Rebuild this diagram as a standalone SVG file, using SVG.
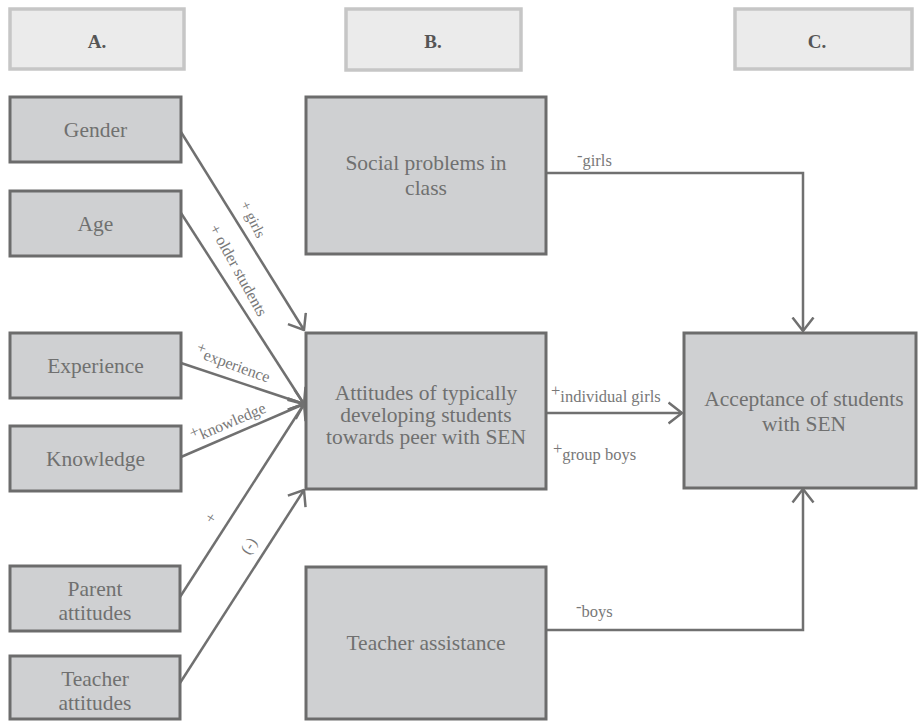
<svg xmlns="http://www.w3.org/2000/svg" width="920" height="722" viewBox="0 0 920 722">
<style>
.hdr rect{fill:#ebebeb;stroke:#c6c6c6;stroke-width:3.5}
.hdr text{font-family:"Liberation Serif",serif;font-size:19px;font-weight:bold;fill:#555;text-anchor:middle}
.node rect{fill:#cfd0d2;stroke:#6c6c6c;stroke-width:3}
.node text{font-family:"Liberation Serif",serif;font-size:21.5px;fill:#707070;text-anchor:middle}
.conn path{fill:none;stroke:#707070;stroke-width:2.5}
.lbl{font-family:"Liberation Serif",serif;font-size:16.5px;fill:#787878}
</style>
<defs>
<marker id="arr" viewBox="0 0 16 24" refX="14.5" refY="12" markerWidth="16" markerHeight="24" markerUnits="userSpaceOnUse" orient="auto">
<path d="M1,1.5 L14.5,12 L1,22.5" fill="none" stroke="#707070" stroke-width="2.5"/>
</marker>
</defs>
<rect width="920" height="722" fill="#ffffff"/>

<g id="hdrA" class="hdr"><rect x="10" y="9" width="174" height="60"/><text x="97" y="48">A.</text></g>
<g id="hdrB" class="hdr"><rect x="346" y="9" width="175" height="61"/><text x="433" y="48">B.</text></g>
<g id="hdrC" class="hdr"><rect x="735" y="9" width="177" height="60"/><text x="817" y="48">C.</text></g>

<g id="connectors" class="conn">
<path d="M181,132 L304,330" marker-end="url(#arr)"/>
<path d="M181,213 L304,404" marker-end="url(#arr)"/>
<path d="M181,363 L304,404" marker-end="url(#arr)"/>
<path d="M181,457 L304,404" marker-end="url(#arr)"/>
<path d="M180,597 L304,404" marker-end="url(#arr)"/>
<path d="M180,683 L304,490" marker-end="url(#arr)"/>
<path d="M547,173 H803 V331" marker-end="url(#arr)"/>
<path d="M547,413 H682" marker-end="url(#arr)"/>
<path d="M547,630 H803 V489" marker-end="url(#arr)"/>
</g>

<g id="gender" class="node"><rect x="10" y="97" width="171" height="65"/><text x="95.5" y="137">Gender</text></g>
<g id="age" class="node"><rect x="10" y="191" width="171" height="65"/><text x="95.5" y="231">Age</text></g>
<g id="experience" class="node"><rect x="10" y="333" width="171" height="65"/><text x="95.5" y="373">Experience</text></g>
<g id="knowledge" class="node"><rect x="10" y="426" width="171" height="65"/><text x="95.5" y="466">Knowledge</text></g>
<g id="parent" class="node"><rect x="10" y="566" width="170" height="65"/><text x="95" y="596">Parent</text><text x="95" y="620">attitudes</text></g>
<g id="teacher" class="node"><rect x="10" y="656" width="170" height="63"/><text x="95" y="686">Teacher</text><text x="95" y="710">attitudes</text></g>

<g id="social" class="node"><rect x="306" y="97" width="240" height="157"/><text x="426" y="170">Social problems in</text><text x="426" y="195">class</text></g>
<g id="attitudes" class="node"><rect x="306" y="333" width="240" height="156"/><text x="426" y="400">Attitudes of typically</text><text x="426" y="422">developing students</text><text x="426" y="444">towards peer with SEN</text></g>
<g id="assistance" class="node"><rect x="306" y="567" width="240" height="152"/><text x="426" y="650">Teacher assistance</text></g>
<g id="acceptance" class="node"><rect x="684" y="333" width="232" height="155"/><text x="804" y="406">Acceptance of students</text><text x="804" y="431">with SEN</text></g>

<g id="labels" class="lbl">
<text transform="translate(240,204) rotate(64)" font-size="15">+ girls</text>
<text transform="translate(209,228) rotate(61)" font-size="16">+ older students</text>
<text transform="translate(194,356) rotate(20)" font-size="16"><tspan dy="-5">+</tspan><tspan dy="5">experience</tspan></text>
<text transform="translate(194,443) rotate(-23)" font-size="16"><tspan dy="-5">+</tspan><tspan dy="5">knowledge</tspan></text>
<text transform="translate(211,518) rotate(-57)" text-anchor="middle" y="5" font-size="16">+</text>
<text transform="translate(249,546) rotate(-57)" text-anchor="middle" y="5" font-size="16">(-)</text>
<text x="577" y="166"><tspan dy="-5">-</tspan><tspan dy="5">girls</tspan></text>
<text x="551" y="402"><tspan dy="-6">+</tspan><tspan dy="6">individual girls</tspan></text>
<text x="553" y="460"><tspan dy="-6">+</tspan><tspan dy="6">group boys</tspan></text>
<text x="576" y="617"><tspan dy="-5">-</tspan><tspan dy="5">boys</tspan></text>
</g>
</svg>
